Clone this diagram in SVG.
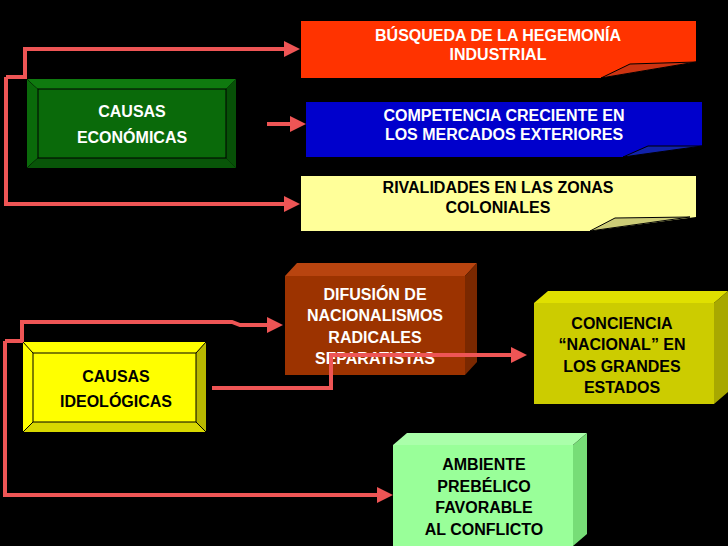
<svg xmlns="http://www.w3.org/2000/svg" width="728" height="546" viewBox="0 0 728 546">
<defs>
<style>
text{font-family:"Liberation Sans",Arial,sans-serif;font-weight:bold;font-size:16px;text-anchor:middle}
.w{fill:#fff}.k{fill:#000}
.c{fill:none;stroke:#ee5555;stroke-width:4}
.e{stroke:#000;stroke-width:1}
</style>
<marker id="a" markerWidth="4" markerHeight="4" refX="3" refY="2" orient="auto" markerUnits="strokeWidth"><path d="M0,0L4,2L0,4z" fill="#ee5555"/></marker>
</defs>
<rect width="728" height="546" fill="#000"/>
<g id="connectors">
<polyline class="c" points="6,77 6,204 296,204" marker-end="url(#a)"/>
<polyline class="c" points="6,77 25,77 25,49 296,49" marker-end="url(#a)"/>
<line class="c" x1="267" y1="124" x2="302" y2="124" marker-end="url(#a)"/>
<polyline class="c" points="5,341 5,495 389,495" marker-end="url(#a)"/>
<polyline class="c" points="5,341 22,341 22,322 232,322 240,325 279,325" marker-end="url(#a)"/>
</g>
<g id="n1"><path d="M301,21H696V62L601,78H301Z" fill="#ff3300"/><path d="M601,78L630,64L696,62Z" fill="#cc3311" class="e"/>
<text class="w" x="498" y="41">BÚSQUEDA DE LA HEGEMONÍA</text><text class="w" x="498" y="60">INDUSTRIAL</text></g>
<g id="n2"><path d="M306,102H702V146L623,157H306Z" fill="#0000cc"/><path d="M623,157L648,146L702,146Z" fill="#1122aa" class="e"/>
<text class="w" x="504" y="121">COMPETENCIA CRECIENTE EN</text><text class="w" x="504" y="140">LOS MERCADOS EXTERIORES</text></g>
<g id="n3"><path d="M301,176H696V217L590,231H301Z" fill="#ffff99"/><path d="M590,231L615,218L690,217Z" fill="#cccc77" class="e"/>
<text class="k" x="498" y="193">RIVALIDADES EN LAS ZONAS</text><text class="k" x="498" y="213">COLONIALES</text></g>
<g id="n4"><rect x="27" y="79" width="209" height="89" fill="#0a6a0a"/>
<path d="M27,79L38,89M236,79L226,89M27,168L38,158M236,168L226,158" stroke="#000"/>
<path d="M27,79H236L226,89H38Z" fill="#0f7a0f"/><path d="M27,168H236L226,158H38Z" fill="#085508"/><path d="M236,79V168L226,158V89Z" fill="#075007"/>
<rect x="38" y="89" width="188" height="69" fill="#0a6a0a" stroke="#000"/>
<text class="w" x="132" y="117" font-size="19">CAUSAS</text><text class="w" x="132" y="143" font-size="19">ECONÓMICAS</text></g>
<g id="n5"><rect x="23" y="342" width="183" height="90" fill="#ffff00"/>
<path d="M206,342V432L196,422V353Z" fill="#b8b800"/><path d="M23,432H206L196,422H33Z" fill="#d8d800"/>
<rect x="33" y="353" width="163" height="69" fill="#ffff00" stroke="#000"/>
<path d="M23,342L33,353M206,342L196,353M23,432L33,422M206,432L196,422" stroke="#000"/>
<text class="k" x="116" y="382">CAUSAS</text><text class="k" x="116" y="407">IDEOLÓGICAS</text></g>
<g id="n6"><path d="M285,276L297,263H477L465,276Z" fill="#b8440f"/><path d="M465,276L477,263V362L465,375Z" fill="#7a2800"/>
<rect x="285" y="276" width="180" height="99" fill="#9c3300"/>
<text class="w" x="375" y="300">DIFUSIÓN DE</text><text class="w" x="375" y="321">NACIONALISMOS</text><text class="w" x="375" y="343">RADICALES</text><text class="w" x="375" y="364">SEPARATISTAS</text></g>
<g id="n7"><path d="M534,303L548,291H728L714,303Z" fill="#e0e000"/><path d="M714,303L728,291V392L714,404Z" fill="#a8a800"/>
<rect x="534" y="303" width="180" height="101" fill="#cccc00"/>
<text class="k" x="622" y="329">CONCIENCIA</text><text class="k" x="622" y="350">“NACIONAL” EN</text><text class="k" x="622" y="372">LOS GRANDES</text><text class="k" x="622" y="393">ESTADOS</text></g>
<g id="n8"><path d="M393,445L407,433H587L573,445Z" fill="#aaffaa"/><path d="M573,445L587,433V534L573,546Z" fill="#77dd77"/>
<rect x="393" y="445" width="180" height="101" fill="#99ff99"/>
<text class="k" x="484" y="470">AMBIENTE</text><text class="k" x="484" y="492">PREBÉLICO</text><text class="k" x="484" y="513">FAVORABLE</text><text class="k" x="484" y="535">AL CONFLICTO</text></g>
<g id="connectors2"><polyline class="c" points="212,388 331,388 331,355 523,355" marker-end="url(#a)"/></g>
</svg>
